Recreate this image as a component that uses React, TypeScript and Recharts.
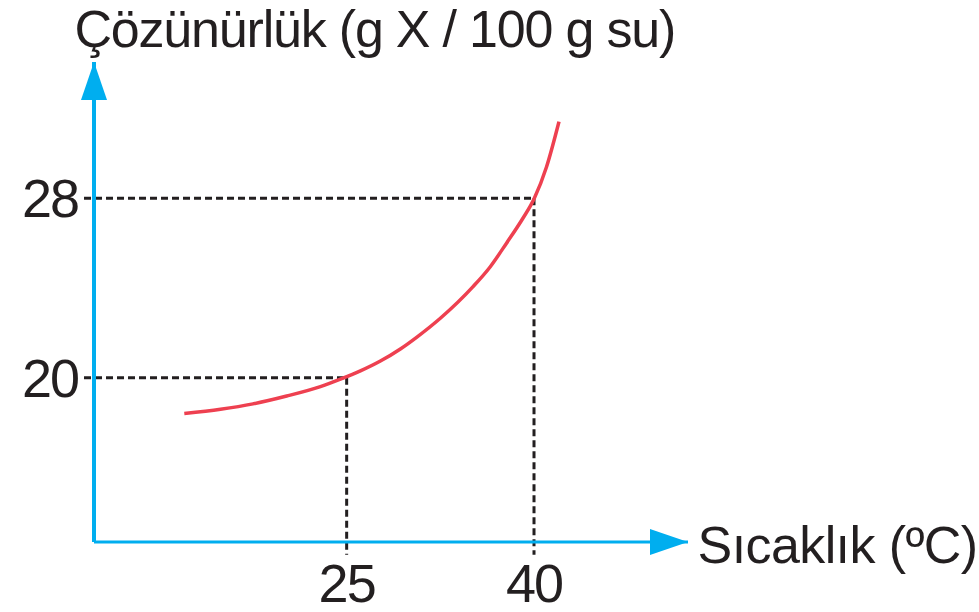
import React from "react";
import { LineChart, Line, XAxis, YAxis, ReferenceLine, ReferenceDot, Label } from "recharts";

// Curve: temperature (°C) vs solubility (g X / 100 g su)
const temperatures = [12, 14.9, 17.5, 20.2, 22.9, 24.5, 26.1, 27.7, 29.3, 30.6, 32.5, 35.1, 36.5, 37.8, 39.1, 40, 41, 42];
const solubility = [18.4, 18.59, 18.83, 19.18, 19.6, 19.93, 20.3, 20.74, 21.28, 21.8, 22.65, 24.05, 24.95, 26.0, 27.1, 27.97, 29.4, 31.42];

const xTicks = [25, 40];
const yTicks = [20, 28];

const yTitle = "Çözünürlük (g X / 100 g su)";
const xTitle = "Sıcaklık (ºC)";

// marked points
const markedPoints = [
  { x: 25, y: 20 },
  { x: 40, y: 28 },
];

const curve = temperatures.map((t, i) => ({ t, s: solubility[i] }));

const X_DOMAIN: [number, number] = [4.77, 52.33];
const Y_DOMAIN: [number, number] = [12.67, 34.08];
// small overshoots of the guide lines past the axes
const GUIDE_X_START = 3.97;
const GUIDE_Y_END = 12.1;

const BLUE = "#00AEEF";
const RED = "#EE4050";
const INK = "#231F20";
const FONT = "'Liberation Sans', Arial, sans-serif";

const ArrowUp = (p: any) => {
  const { cx, cy } = p;
  return <path d={`M ${cx} ${cy} L ${cx - 13} ${cy + 38} L ${cx + 13} ${cy + 38} Z`} fill={BLUE} />;
};
const ArrowRight = (p: any) => {
  const { cx, cy } = p;
  return <path d={`M ${cx} ${cy} L ${cx - 38} ${cy - 13} L ${cx - 38} ${cy + 13} Z`} fill={BLUE} />;
};

export default function App() {
  return (
    <div style={{ position: "absolute", left: 0, top: 0, background: "#fff" }}>
      <LineChart
        width={979}
        height={612}
        data={curve}
        margin={{ top: 62, right: 291, bottom: 69, left: 93 }}
      >
        <XAxis
          dataKey="t"
          type="number"
          domain={X_DOMAIN}
          allowDataOverflow
          ticks={xTicks}
          height={1}
          tickSize={0}
          tickMargin={22}
          tickLine={false}
          axisLine={{ stroke: BLUE, strokeWidth: 3 }}
          tick={{ fill: INK, fontSize: 54, fontFamily: FONT, letterSpacing: -2 }}
          interval={0}
        >
          <Label
            content={() => (
              <text x={697.6} y={563} fill={INK} fontSize={52} fontFamily={FONT} letterSpacing={-0.6}>
                {xTitle}
              </text>
            )}
          />
        </XAxis>
        <YAxis
          dataKey="s"
          type="number"
          domain={Y_DOMAIN}
          allowDataOverflow
          ticks={yTicks}
          width={1}
          tickSize={0}
          tickMargin={16}
          tickLine={false}
          axisLine={{ stroke: BLUE, strokeWidth: 4 }}
          tick={{ fill: INK, fontSize: 54, fontFamily: FONT, letterSpacing: -2 }}
          interval={0}
        >
          <Label
            content={() => (
              <text x={74.5} y={47} fill={INK} fontSize={52} fontFamily={FONT} letterSpacing={-1.2}>
                {yTitle}
              </text>
            )}
          />
        </YAxis>
        {markedPoints.map((m, i) => (
          <ReferenceLine
            key={`h${i}`}
            segment={[
              { x: GUIDE_X_START, y: m.y },
              { x: m.x, y: m.y },
            ]}
            stroke={INK}
            strokeWidth={3}
            strokeDasharray="7 4"
            ifOverflow="visible"
          />
        ))}
        {markedPoints.map((m, i) => (
          <ReferenceLine
            key={`v${i}`}
            segment={[
              { x: m.x, y: m.y },
              { x: m.x, y: GUIDE_Y_END },
            ]}
            stroke={INK}
            strokeWidth={3}
            strokeDasharray="7 4"
            ifOverflow="visible"
          />
        ))}
        <ReferenceDot x={X_DOMAIN[0]} y={Y_DOMAIN[1]} r={1} ifOverflow="visible" shape={ArrowUp} />
        <ReferenceDot x={X_DOMAIN[1]} y={Y_DOMAIN[0]} r={1} ifOverflow="visible" shape={ArrowRight} />
        <Line
          dataKey="s"
          type="monotone"
          stroke={RED}
          strokeWidth={3.5}
          dot={false}
          activeDot={false}
          isAnimationActive={false}
        />
      </LineChart>
    </div>
  );
}
